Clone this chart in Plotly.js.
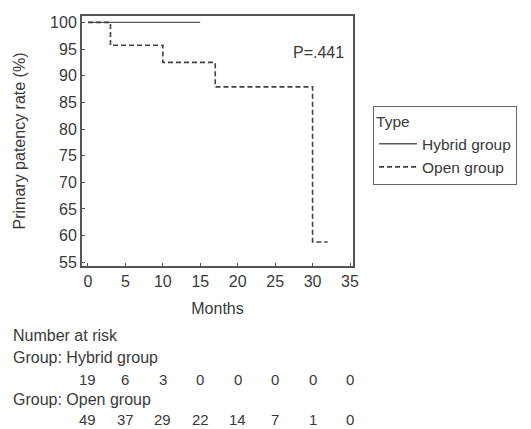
<!DOCTYPE html>
<html>
<head>
<meta charset="utf-8">
<script src="https://cdn.plot.ly/plotly-3.0.1.min.js"></script>
<style>html,body{margin:0;padding:0;background:#fff;}#chart{width:531px;height:429px;}</style>
</head>
<body>
<div id="chart"></div>
<script>
// Kaplan-Meier step data
const hybridMonths = [0, 15];
const hybridRate = [100, 100];
const openMonths = [0, 3, 10, 17, 30, 32];
const openRate = [100, 95.7, 92.5, 87.9, 58.8, 58.8];

// Number at risk table
const riskTimes = [0, 5, 10, 15, 20, 25, 30, 35];
const riskHybrid = [19, 6, 3, 0, 0, 0, 0, 0];
const riskOpen = [49, 37, 29, 22, 14, 7, 1, 0];

const pText = 'P=.441';

const fontFam = 'Liberation Sans, Arial, sans-serif';
const txtColor = '#3a3a3a';
const fs = 16;
const tfs = 15;

const mkFont = (s) => ({size: s, color: txtColor, family: fontFam});

const traces = [
  {x: hybridMonths, y: hybridRate, mode: 'lines', name: 'Hybrid group',
   line: {shape: 'hv', color: '#5a5a5a', width: 1.4}},
  {x: openMonths, y: openRate, mode: 'lines', name: 'Open group',
   line: {shape: 'hv', color: '#404040', width: 1.6, dash: '5px,3px'}}
];

const annotations = [
  {x: 30.8, y: 94.3, xref: 'x', yref: 'y', text: pText, showarrow: false, font: mkFont(fs)},
  {x: -0.258, y: -0.276, xref: 'paper', yref: 'paper', xanchor: 'left', yanchor: 'middle', borderpad: 0,
   text: 'Number at risk', showarrow: false, font: mkFont(fs)},
  {x: -0.258, y: -0.368, xref: 'paper', yref: 'paper', xanchor: 'left', yanchor: 'middle', borderpad: 0,
   text: 'Group: Hybrid group', showarrow: false, font: mkFont(fs)},
  {x: -0.258, y: -0.532, xref: 'paper', yref: 'paper', xanchor: 'left', yanchor: 'middle', borderpad: 0,
   text: 'Group: Open group', showarrow: false, font: mkFont(fs)}
];
riskTimes.forEach((t, i) => {
  annotations.push({x: t, y: -0.452, xref: 'x', yref: 'paper', xanchor: 'center', yanchor: 'middle',
    borderpad: 0, text: String(riskHybrid[i]), showarrow: false, font: mkFont(tfs)});
  annotations.push({x: t, y: -0.612, xref: 'x', yref: 'paper', xanchor: 'center', yanchor: 'middle',
    borderpad: 0, text: String(riskOpen[i]), showarrow: false, font: mkFont(tfs)});
});

const layout = {
  width: 531, height: 429,
  margin: {l: 82, r: 178, t: 16, b: 163},
  paper_bgcolor: '#fff', plot_bgcolor: '#fff',
  font: {family: fontFam, size: fs, color: txtColor},
  showlegend: true,
  legend: {
    x: 1.074, y: 0.64, xanchor: 'left', yanchor: 'top',
    title: {text: 'Type', font: mkFont(15.5)},
    bordercolor: '#666', borderwidth: 1, bgcolor: '#fff',
    font: mkFont(15.5), itemwidth: 38, tracegroupgap: 0
  },
  xaxis: {
    range: [-0.8, 35.4], tickvals: riskTimes, ticks: 'inside', ticklen: 3, tickcolor: '#555',
    showgrid: false, zeroline: false, showline: true, mirror: true, linecolor: '#555', linewidth: 2,
    tickfont: mkFont(fs),
    title: {text: 'Months', standoff: 14, font: mkFont(fs)}
  },
  yaxis: {
    range: [54.3, 101.2], tickvals: [55, 60, 65, 70, 75, 80, 85, 90, 95, 100],
    ticks: 'inside', ticklen: 3, tickcolor: '#555',
    showgrid: false, zeroline: false, showline: true, mirror: true, linecolor: '#555', linewidth: 2,
    tickfont: mkFont(fs),
    title: {text: 'Primary patency rate (%)', standoff: 20, font: mkFont(fs)}
  },
  annotations: annotations
};

Plotly.newPlot('chart', traces, layout, {displayModeBar: false, staticPlot: true});
</script>
</body>
</html>
